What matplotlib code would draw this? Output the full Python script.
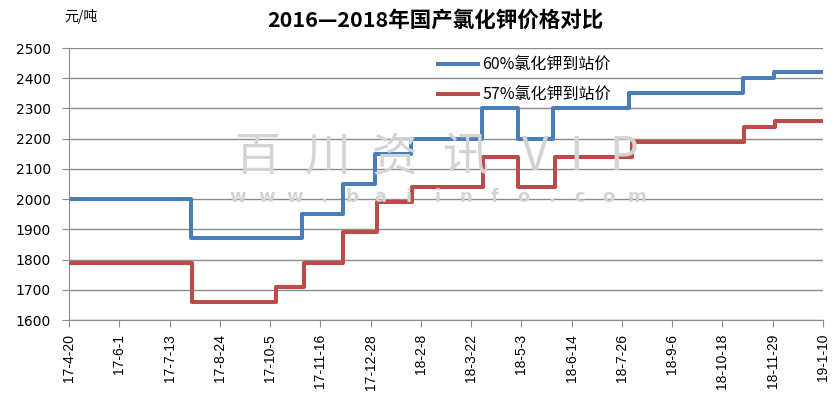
import matplotlib
matplotlib.use("Agg")
import matplotlib.pyplot as plt
import pandas as pd

plt.rcParams['font.family'] = ['Noto Sans CJK SC', 'DejaVu Sans']

# 60% potassium chloride, price change dates (step levels)
blue_dates = ['2017-04-20', '2017-07-31', '2017-11-01', '2017-12-05', '2018-01-01', '2018-01-31',
              '2018-03-31', '2018-04-30', '2018-05-29', '2018-08-01', '2018-11-04', '2018-11-30',
              '2019-01-10']
blue_vals = [2000, 1870, 1950, 2050, 2150, 2200, 2300, 2200, 2300, 2350, 2400, 2420, 2420]

# 57% potassium chloride
red_dates = ['2017-04-20', '2017-08-01', '2017-10-10', '2017-11-02', '2017-12-05', '2018-01-02',
             '2018-02-01', '2018-04-01', '2018-04-30', '2018-05-31', '2018-08-03', '2018-11-05',
             '2018-12-01', '2019-01-10']
red_vals = [1790, 1660, 1710, 1790, 1890, 1990, 2040, 2140, 2040, 2140, 2190, 2240, 2260, 2260]

tick_dates = ['2017-04-20', '2017-06-01', '2017-07-13', '2017-08-24', '2017-10-05', '2017-11-16',
              '2017-12-28', '2018-02-08', '2018-03-22', '2018-05-03', '2018-06-14', '2018-07-26',
              '2018-09-06', '2018-10-18', '2018-11-29', '2019-01-10']
tick_labels = ['17-4-20', '17-6-1', '17-7-13', '17-8-24', '17-10-5', '17-11-16', '17-12-28',
               '18-2-8', '18-3-22', '18-5-3', '18-6-14', '18-7-26', '18-9-6', '18-10-18',
               '18-11-29', '19-1-10']

labels = ['60%氯化钾到站价', '57%氯化钾到站价']

fig = plt.figure(figsize=(8.35, 4.01), dpi=100)
ax = fig.add_axes([69/835, 1-320/401, 754/835, 272/401])
ax.set_facecolor('none')

# watermark behind the chart
wm = ['百', '川', '资', '讯', 'V', 'I', 'P']
wm_x = [257, 328, 395, 465, 535, 576, 624]
for ch, x in zip(wm, wm_x):
    fig.text(x/835, 1-157/401, ch, fontsize=33, color='#d4d4d4',
             ha='center', va='center', zorder=0)
wm2 = 'www.baiinfo.com'
for i, ch in enumerate(wm2):
    fig.text((238 + i*28.5)/835, 1-197/401, ch, fontsize=13, fontweight='bold',
             color='#d4d4d4', ha='center', va='center', zorder=0, family='DejaVu Sans')

ax.plot(pd.to_datetime(blue_dates), blue_vals, drawstyle='steps-post', color='#4a7ebb',
        lw=2.9, label=labels[0], zorder=3)
ax.plot(pd.to_datetime(red_dates), red_vals, drawstyle='steps-post', color='#be4b48',
        lw=2.9, label=labels[1], zorder=3)

ax.set_xlim(pd.Timestamp('2017-04-20'), pd.Timestamp('2019-01-10'))
ax.set_ylim(1600, 2500)
ax.set_yticks(range(1600, 2501, 100))
ax.set_xticks(pd.to_datetime(tick_dates))
ax.set_xticklabels(tick_labels, rotation=90, fontsize=10, family='Liberation Sans')
for t in ax.get_yticklabels():
    t.set_fontsize(10)
    t.set_family('DejaVu Sans')

ax.grid(axis='y', color='#8c8c8c', lw=1)
ax.set_axisbelow(True)
for s in ['top', 'right']:
    ax.spines[s].set_visible(False)
for s in ['left', 'bottom']:
    ax.spines[s].set_color('#8c8c8c')
ax.tick_params(axis='y', length=5, color='#8c8c8c', pad=8)
ax.tick_params(axis='x', length=5, color='#8c8c8c', pad=5)

ax.legend(loc='upper left', bbox_to_anchor=(0.47, 1.02), frameon=False, fontsize=11.5,
          handlelength=2.5, labelspacing=0.8, handletextpad=0.3)

fig.text(435/835, 1-20/401, '2016—2018年国产氯化钾价格对比', fontsize=15.5, fontweight='bold',
         ha='center', va='center')
fig.text(64/835, 1-16/401, '元/吨', fontsize=10, ha='left', va='center')

fig.savefig('out.png', dpi=100)
